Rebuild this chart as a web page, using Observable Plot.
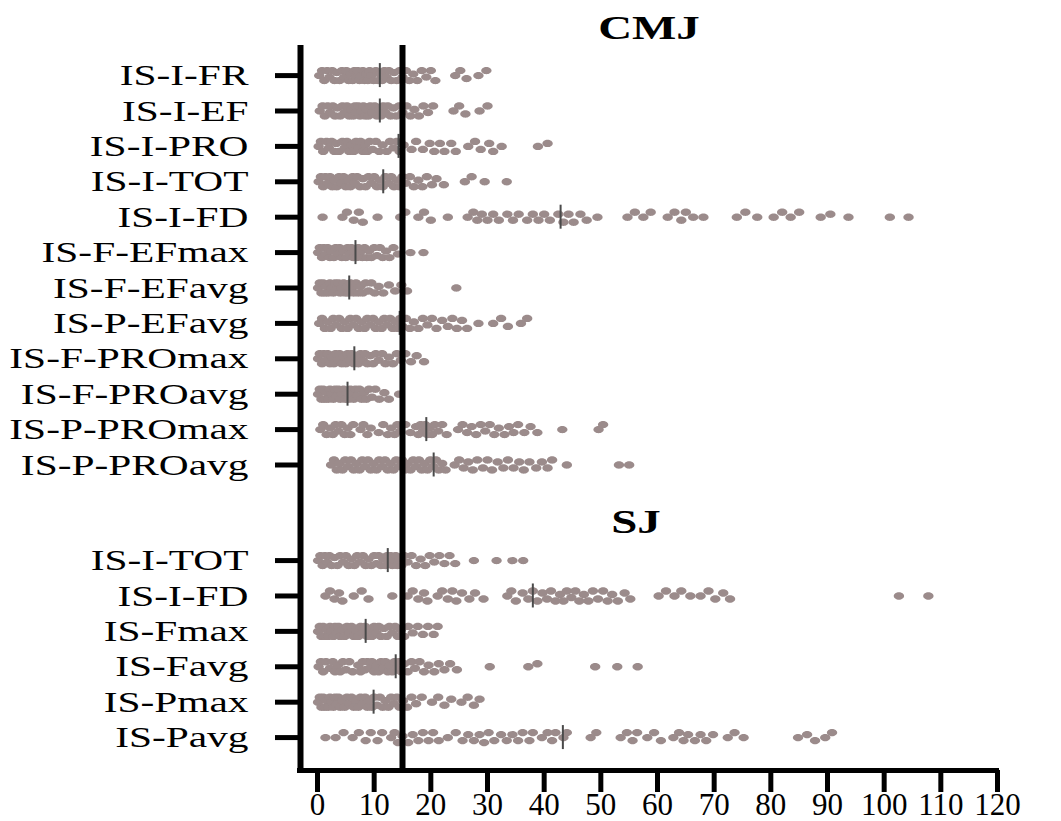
<!DOCTYPE html>
<html>
<head>
<meta charset="utf-8">
<script src="https://cdn.jsdelivr.net/npm/d3@7"></script>
<script src="https://cdn.jsdelivr.net/npm/@observablehq/plot@0.6"></script>
<style>
  body { margin: 0; background: #fff; }
</style>
</head>
<body>
<div id="chart"></div>
<script>
// ---------- data ----------
const groupTitles = ["CMJ", "SJ"];

const cmjLabels = ["IS-I-FR", "IS-I-EF", "IS-I-PRO", "IS-I-TOT", "IS-I-FD", "IS-F-EFmax",
  "IS-F-EFavg", "IS-P-EFavg", "IS-F-PROmax", "IS-F-PROavg", "IS-P-PROmax", "IS-P-PROavg"];
const sjLabels = ["IS-I-TOT", "IS-I-FD", "IS-Fmax", "IS-Favg", "IS-Pmax", "IS-Pavg"];

const cmjMedians = [11, 11, 14.3, 11.6, 42.9, 6.7, 5.6, 14.5, 6.5, 5.3, 19.2, 20.5];
const sjMedians = [12.4, 38, 8.5, 13.8, 9.9, 43.3];

const cmjValues = [
  // IS-I-FR
  [0.3,0.8,1.2,1.7,2.1,2.6,3.0,3.4,3.9,4.3,4.7,5.1,5.5,5.9,6.2,6.5,6.8,7.1,7.4,7.7,8.0,8.3,8.6,8.9,9.2,9.5,9.9,10.3,10.7,11.0,11.4,11.8,12.2,12.6,13.0,13.5,14.0,14.5,15.0,15.6,16.2,16.9,17.6,18.4,19.2,20.0,20.8,24.3,25.2,26.3,28.4,29.8],
  // IS-I-EF
  [0.4,0.9,1.3,1.8,2.2,2.7,3.1,3.5,4.0,4.4,4.8,5.2,5.6,6.0,6.3,6.6,6.9,7.2,7.5,7.8,8.1,8.4,8.7,9.0,9.3,9.7,10.1,10.5,10.9,11.2,11.6,12.0,12.4,12.9,13.4,13.9,14.4,15.0,15.7,16.4,17.1,17.9,18.7,19.5,20.4,24.0,25.0,26.1,28.6,30.0],
  // IS-I-PRO
  [0.2,0.6,1.0,1.6,2.0,2.5,3.0,3.3,3.8,4.4,4.8,5.2,5.6,6.0,6.4,6.8,7.2,7.6,8.0,8.4,8.8,9.2,9.7,10.3,10.9,11.5,12.2,12.8,13.4,14.0,14.5,15.2,16.6,17.4,18.6,19.8,20.6,21.6,22.4,23.6,24.4,26.6,27.8,28.8,30.3,31.0,32.5,38.9,40.6],
  // IS-I-TOT
  [0.2,0.6,1.0,1.4,1.8,2.2,2.6,3.0,3.4,3.8,4.2,4.6,5.0,5.4,5.8,6.2,6.6,7.0,7.5,8.0,8.5,9.0,9.5,10.0,10.5,11.0,11.5,12.0,12.5,13.0,13.5,14.0,14.5,15.0,15.6,16.3,17.0,17.8,18.5,19.3,20.2,21.0,22.3,26.0,27.2,29.5,33.4],
  // IS-I-FD
  [0.9,4.4,5.2,6.4,7.3,8.0,10.6,14.6,15.5,17.8,18.8,20.0,23.0,26.5,27.5,28.2,29.0,30.0,31.0,32.0,33.5,34.5,35.5,37.0,38.0,39.0,40.0,41.0,42.5,43.4,44.3,45.2,46.4,47.5,49.4,54.7,56.0,57.5,58.8,61.8,63.0,64.2,65.0,66.3,68.1,74.0,75.5,77.6,80.5,82.0,83.5,85.0,88.8,90.5,93.7,101.0,104.3],
  // IS-F-EFmax
  [0.1,0.4,0.8,1.1,1.5,1.8,2.2,2.5,2.9,3.2,3.6,3.9,4.3,4.6,5.0,5.3,5.7,6.0,6.3,6.6,6.9,7.2,7.5,7.9,8.3,8.7,9.1,9.5,10.0,10.5,11.0,11.5,12.1,12.7,13.4,14.2,16.4,18.7],
  // IS-F-EFavg
  [0.1,0.4,0.7,1.0,1.3,1.6,1.9,2.2,2.5,2.8,3.1,3.4,3.7,4.0,4.3,4.6,4.9,5.2,5.5,5.8,6.1,6.4,6.8,7.2,7.6,8.0,8.5,9.0,9.5,10.1,10.8,11.6,12.6,13.7,14.8,15.8,24.5],
  // IS-P-EFavg
  [0.3,0.8,1.3,1.8,2.3,2.8,3.3,3.8,4.3,4.8,5.3,5.8,6.3,6.8,7.3,7.8,8.3,8.8,9.3,9.8,10.3,10.8,11.3,11.8,12.3,12.8,13.3,13.8,14.2,14.6,15.0,15.6,16.3,17.0,17.8,18.6,19.4,20.2,21.0,22.0,23.0,23.8,24.6,25.5,26.4,28.4,31.0,32.4,33.6,35.9,37.0],
  // IS-F-PROmax
  [0.1,0.4,0.8,1.1,1.5,1.8,2.2,2.5,2.9,3.2,3.6,3.9,4.3,4.6,5.0,5.3,5.7,6.0,6.4,6.8,7.2,7.6,8.0,8.4,8.8,9.3,9.8,10.3,10.8,11.4,12.0,12.6,13.3,14.0,14.7,15.5,16.5,17.5,18.8],
  // IS-F-PROavg
  [0.1,0.4,0.7,1.0,1.3,1.6,1.9,2.2,2.5,2.8,3.1,3.4,3.7,4.0,4.3,4.6,4.9,5.2,5.5,5.8,6.1,6.4,6.7,7.0,7.4,7.8,8.2,8.6,9.1,9.6,10.2,10.9,11.8,12.6,14.4],
  // IS-P-PROmax
  [0.5,1.0,1.6,2.2,2.7,3.2,3.7,4.2,4.8,5.3,5.8,6.3,7.6,8.1,8.8,9.4,10.8,11.6,12.4,13.0,13.6,14.1,14.6,15.5,16.4,17.4,17.8,18.2,18.6,19.0,19.4,19.8,20.2,20.7,21.3,22.0,22.8,24.8,25.6,26.4,27.2,28.0,28.8,29.6,30.4,31.2,32.0,33.0,33.8,34.6,35.4,36.5,37.6,38.8,43.2,49.6,50.4],
  // IS-P-PROavg
  [2.4,2.9,3.4,3.9,4.4,4.9,5.4,5.9,6.4,6.9,7.4,7.9,8.4,8.9,9.4,9.9,10.4,10.9,11.4,11.9,12.4,12.9,13.4,13.9,14.4,14.9,15.4,15.9,16.4,16.9,17.4,17.9,18.4,18.9,19.4,19.9,20.4,20.9,21.4,22.0,22.6,24.2,25.0,25.8,26.6,27.4,28.2,29.2,30.0,30.8,31.8,32.8,33.6,34.6,35.6,36.4,37.4,38.6,39.6,40.6,41.4,44.0,53.2,55.0]
];

const sjValues = [
  // IS-I-TOT
  [0.1,0.5,0.9,1.3,1.7,2.1,2.5,3.0,3.5,4.0,4.5,5.0,5.5,6.0,6.5,7.0,7.5,8.0,8.5,9.0,9.5,10.0,10.4,10.8,11.2,11.6,12.0,12.3,12.6,12.9,13.2,13.5,13.8,14.1,14.4,14.8,15.3,15.9,16.6,17.4,18.2,19.0,19.8,20.6,21.5,22.4,23.3,24.3,27.6,31.6,34.4,36.3],
  // IS-I-FD
  [1.4,2.2,3.0,3.8,4.4,6.4,7.8,9.0,13.2,15.9,16.8,17.8,18.8,19.4,21.2,22.0,23.0,23.8,24.5,25.5,26.8,27.8,29.3,33.5,34.2,35.0,36.2,37.2,38.0,38.8,39.7,40.5,41.2,42.0,42.8,43.4,44.0,44.8,45.5,46.2,47.0,47.8,48.6,49.5,50.4,51.2,52.0,53.0,54.2,55.2,60.2,61.5,63.0,64.2,65.8,67.6,69.0,70.2,71.6,72.8,102.6,107.8],
  // IS-Fmax
  [0.1,0.4,0.7,1.0,1.3,1.6,1.9,2.2,2.5,2.8,3.1,3.4,3.7,4.0,4.4,4.8,5.2,5.6,6.0,6.4,6.8,7.2,7.6,8.0,8.4,8.8,9.2,9.6,10.0,10.4,10.8,11.2,11.7,12.2,12.7,13.2,13.7,14.2,14.7,15.3,16.0,16.8,17.7,18.6,19.5,20.5,21.2],
  // IS-Favg
  [0.2,0.6,1.0,1.5,2.2,2.7,3.1,3.6,4.0,4.5,5.0,5.6,6.2,7.2,7.6,8.0,8.4,8.8,9.2,9.6,10.0,10.4,10.8,11.2,11.6,12.0,12.4,12.8,13.2,13.6,14.0,14.4,14.8,15.3,15.9,16.6,17.2,18.0,18.8,19.6,20.6,21.4,22.4,23.4,24.6,30.4,37.2,38.8,49.0,52.9,56.5],
  // IS-Pmax
  [0.1,0.4,0.7,1.0,1.3,1.6,1.9,2.2,2.5,2.8,3.1,3.4,3.7,4.0,4.4,4.8,5.2,5.6,6.0,6.4,6.8,7.2,7.6,8.0,8.4,8.8,9.2,9.6,10.0,10.5,11.0,11.5,12.0,12.5,13.0,13.5,14.0,14.5,15.1,15.8,16.6,17.4,18.4,20.2,21.3,22.4,23.6,25.4,26.5,27.6,28.6],
  // IS-Pavg
  [1.4,3.2,4.6,6.2,7.3,8.5,9.4,10.6,11.4,13.0,13.6,14.2,15.0,16.0,16.8,17.8,18.6,19.6,20.4,21.4,23.0,24.4,25.6,26.6,27.6,28.6,29.4,30.2,31.2,32.4,33.4,34.4,35.4,36.2,37.4,38.0,39.6,40.6,41.4,42.0,43.4,44.0,48.2,49.2,53.5,54.6,55.6,56.4,58.2,59.4,60.6,62.8,63.8,64.6,65.4,66.6,67.6,68.6,69.8,72.4,73.6,75.2,84.8,86.4,87.8,89.6,90.8]
];

const xTicks = [0, 10, 20, 30, 40, 50, 60, 70, 80, 90, 100, 110, 120];
const threshold = 15;

// ---------- layout helpers ----------
const W = 1061, H = 821;
const mL = 300, mR = 64, mT = 45, mB = 51;
const xDomain = [-3, 120];
const groupGap = 2.7;
const rows = [
  ...cmjLabels.map((label, i) => ({label, pos: i, values: cmjValues[i], median: cmjMedians[i]})),
  ...sjLabels.map((label, j) => ({label, pos: cmjLabels.length - 1 + groupGap + j, values: sjValues[j], median: sjMedians[j]}))
];
const yDomain = [-0.85, rows[rows.length - 1].pos + 0.93];
const pxX = (W - mL - mR) / (xDomain[1] - xDomain[0]);
const pxY = (H - mT - mB) / (yDomain[1] - yDomain[0]);
const labelByPos = new Map(rows.map(r => [r.pos, r.label]));

// deterministic beeswarm offsets (px) within a narrow band
const cands = [0, -3, 3, -5, 5, -1.5, 1.5];
const points = [];
for (const r of rows) {
  const sorted = r.values.slice().sort(d3.ascending);
  const placed = [];
  for (const v of sorted) {
    let best = 0, bestCost = Infinity;
    for (const c of cands) {
      let cost = 0;
      for (const p of placed) {
        const dx = (v - p.v) * pxX;
        if (Math.abs(dx) >= 10) continue;
        const o = 1 - Math.hypot(dx / 10, (c - p.dy) / 7);
        if (o > 0) cost += o;
      }
      if (cost < bestCost - 1e-9) { bestCost = cost; best = c; }
    }
    placed.push({v, dy: best});
    points.push({x: v, y: r.pos + best / pxY});
  }
}

const ellipse = {
  draw(ctx, size) {
    const r = Math.sqrt(size / Math.PI), rx = r * 1.4, ry = r, k = 0.5523;
    ctx.moveTo(rx, 0);
    ctx.bezierCurveTo(rx, ry * k, rx * k, ry, 0, ry);
    ctx.bezierCurveTo(-rx * k, ry, -rx, ry * k, -rx, 0);
    ctx.bezierCurveTo(-rx, -ry * k, -rx * k, -ry, 0, -ry);
    ctx.bezierCurveTo(rx * k, -ry, rx, -ry * k, rx, 0);
    ctx.closePath();
  }
};

const titles = [
  {label: groupTitles[0], x: 58.5, y: -1.33},
  {label: groupTitles[1], x: 56.2, y: cmjLabels.length - 1 + groupGap - 1.1}
];

const font = "'Liberation Serif', 'Times New Roman', serif";

const chart = Plot.plot({
  width: W, height: H,
  marginLeft: mL, marginRight: mR, marginTop: mT, marginBottom: mB,
  style: {fontFamily: font, color: "black", background: "white", overflow: "visible"},
  x: {domain: xDomain},
  y: {domain: yDomain, reverse: true},
  marks: [
    Plot.dot(points, {x: "x", y: "y", r: 3.7, symbol: ellipse, fill: "#9b8b8b", stroke: "none"}),
    Plot.ruleX(rows, {x: "median", y1: d => d.pos - 12 / pxY, y2: d => d.pos + 12 / pxY, stroke: "#4a4a4a", strokeWidth: 2}),
    Plot.ruleX([xDomain[0]], {strokeWidth: 6, stroke: "black"}),
    Plot.ruleX([threshold], {strokeWidth: 6, stroke: "black"}),
    Plot.ruleY([yDomain[1]], {strokeWidth: 5, stroke: "black", insetLeft: -3, insetRight: -2}),
    Plot.axisY({ticks: rows.map(r => r.pos), tickFormat: p => labelByPos.get(p), tickSize: 25, tickPadding: 27,
      strokeWidth: 5, fontSize: 30, fontFamily: font, label: null}),
    Plot.axisX({ticks: xTicks, tickSize: 22, tickPadding: 0, strokeWidth: 5, fontSize: 31, fontFamily: font, label: null}),
    Plot.text(titles, {x: "x", y: "y", text: "label", fontSize: 34, fontWeight: "bold", fontFamily: font, fill: "black"})
  ]
});

document.getElementById("chart").appendChild(chart);

// horizontal stretch of the serif labels, as in the reference
function stretch(t, k) {
  const xa = t.getAttribute("x");
  let pre = "";
  if (xa !== null && !isNaN(+xa)) { pre = ` translate(${+xa},0)`; t.removeAttribute("x"); }
  const tr = t.getAttribute("transform") || "";
  t.setAttribute("transform", `${tr}${pre} scale(${k},1)`);
}
chart.querySelectorAll('g[aria-label="y-axis tick label"] text, g[aria-label="text"] text')
  .forEach(t => stretch(t, 1.38));
</script>
</body>
</html>
